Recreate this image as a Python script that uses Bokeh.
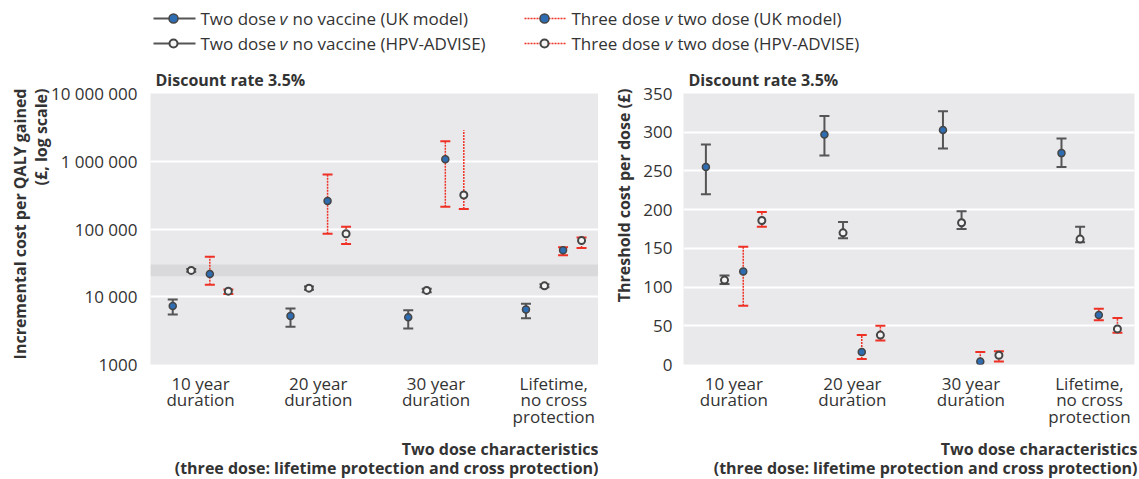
import math
from bokeh.plotting import figure
from bokeh.models import Range1d, FixedTicker, Label, BoxAnnotation
from bokeh.layouts import column, row
from bokeh.embed import file_html
from bokeh.resources import INLINE
from bokeh.core.properties import value

# ---------------- data ----------------
categories = ["10 year\nduration", "20 year\nduration", "30 year\nduration",
              "Lifetime,\nno cross\nprotection"]

# Left panel: incremental cost per QALY gained (GBP, log scale)
uk2_icer = [7300, 5200, 5000, 6500]
uk2_icer_lo = [5450, 3600, 3400, 4800]
uk2_icer_hi = [9100, 6700, 6300, 7900]
hpv2_icer = [24500, 13400, 12400, 14500]
hpv2_icer_lo = [23300, 12700, 11700, 13800]
hpv2_icer_hi = [25700, 14200, 13100, 15300]
uk3_icer = [21600, 260000, 1070000, 48600]
uk3_icer_lo = [15000, 85000, 213000, 41000]
uk3_icer_hi = [39000, 640000, 1970000, 54000]
hpv3_icer = [12100, 85000, 318000, 67500]
hpv3_icer_lo = [11000, 60000, 197000, 52600]
hpv3_icer_hi = [12800, 108000, 2860000, 74800]
hpv3_icer_hi_cap = [True, True, False, True]

# Right panel: threshold cost per dose (GBP)
uk2_thr = [255, 297, 303, 273]
uk2_thr_lo = [220, 270, 279, 255]
uk2_thr_hi = [284, 321, 327, 292]
hpv2_thr = [109, 170, 183, 162]
hpv2_thr_lo = [104, 163, 175, 158]
hpv2_thr_hi = [115, 184, 198, 178]
uk3_thr = [120, 16, 4, 64]
uk3_thr_lo = [76, 7, -5, 57]
uk3_thr_hi = [152, 38, 16, 72]
hpv3_thr = [186, 38, 12, 46]
hpv3_thr_lo = [178, 31, 4, 41]
hpv3_thr_hi = [197, 50, 17, 60]

icer_ticks = [1000, 10000, 100000, 1000000, 10000000]
icer_tick_labels = ["1000", "10 000", "100 000", "1 000 000", "10 000 000"]
thr_ticks = [0, 50, 100, 150, 200, 250, 300, 350]
threshold_band = [20000, 30000]

panel_title = "Discount rate 3.5%"
x_title = ["Two dose characteristics",
           "(three dose: lifetime protection and cross protection)"]
left_y_title = ["Incremental cost per QALY gained", "(£, log scale)"]
right_y_title = "Threshold cost per dose (£)"

legend_labels = [
    ("Two dose", "v", "no vaccine (UK model)"),
    ("Two dose", "v", "no vaccine (HPV-ADVISE)"),
    ("Three dose", "v", "two dose (UK model)"),
    ("Three dose", "v", "two dose (HPV-ADVISE)"),
]

# ---------------- style ----------------
FONT = "Open Sans"
TXT = "#333333"
BG = "#e9e9ec"
BLUE = "#2f6db3"
EDGE = "#454545"
GREY = "#555555"
RED = "#ee3124"
offsets = [-0.236, -0.079, 0.079, 0.236]

TOP = 30
FR_H = 271
BOTTOM = 115
H = TOP + FR_H + BOTTOM


def draw_series(p, slot, y, lo, hi, three, uk, hi_cap=None):
    xs = [i + offsets[slot] for i in range(len(y))]
    col = RED if three else GREY
    p.segment(x0=xs, y0=lo, x1=xs, y1=hi, line_color=col,
              line_width=1.5 if three else 2,
              line_dash="2 1" if three else "solid")
    cap_x = list(xs)
    cap_y = list(lo)
    for i in range(len(xs)):
        if hi_cap is None or hi_cap[i]:
            cap_x.append(xs[i])
            cap_y.append(hi[i])
    p.scatter(x=cap_x, y=cap_y, marker="dash", size=10, line_color=col,
              line_width=2)
    if uk:
        p.scatter(x=xs, y=y, marker="circle", size=7, fill_color=BLUE,
                  line_color=EDGE, line_width=1.5)
    else:
        p.scatter(x=xs, y=y, marker="circle", size=7, fill_color="#f4f4f4",
                  line_color=EDGE, line_width=2)


def lab(text, x, y, align="left", angle=0.0):
    return Label(x=x, y=y, x_units="screen", y_units="screen", text=text,
                 angle=angle, text_font=FONT, text_font_size="16px",
                 text_font_style="bold", text_color=TXT, text_align=align,
                 text_baseline="middle")


def base_fig(width, left, right, y_type, y_range, xt_x):
    p = figure(width=width, height=H, y_axis_type=y_type,
               x_range=Range1d(-0.425, 3.38), y_range=y_range,
               toolbar_location=None, output_backend="svg",
               min_border_left=left, min_border_right=right,
               min_border_top=TOP, min_border_bottom=BOTTOM)
    p.background_fill_color = BG
    p.border_fill_color = "white"
    p.outline_line_color = None
    p.xgrid.visible = False
    p.ygrid.grid_line_color = "white"
    p.ygrid.grid_line_width = 2
    for ax in (p.xaxis[0], p.yaxis[0]):
        ax.axis_line_color = None
        ax.major_tick_line_color = None
        ax.minor_tick_line_color = None
        ax.major_label_text_font = FONT
        ax.major_label_text_font_size = "17px"
        ax.major_label_text_color = TXT
    p.xaxis.ticker = FixedTicker(ticks=list(range(len(categories))))
    p.xaxis.major_label_overrides = {i: c for i, c in enumerate(categories)}
    p.xaxis.major_label_standoff = 1
    p.xaxis.major_label_text_line_height = 0.72
    p.yaxis.major_label_standoff = 7
    p.title.text = panel_title
    p.title.align = "left"
    p.title.offset = 5
    p.title.standoff = 6
    p.title.text_font = FONT
    p.title.text_font_size = "16px"
    p.title.text_font_style = "bold"
    p.title.text_color = TXT
    # x-axis title lines, in their own panels below the axis
    p.add_layout(lab(x_title[0], xt_x, 4, "right"), "below")
    p.add_layout(lab(x_title[1], xt_x, 7, "right"), "below")
    return p


# ---------------- left panel ----------------
left = base_fig(150 + 448, 150, 0, "log", Range1d(1000, 10000000), 448)
left.yaxis.ticker = FixedTicker(ticks=icer_ticks)
left.yaxis.major_label_overrides = dict(zip(icer_ticks, icer_tick_labels))
left.add_layout(BoxAnnotation(bottom=threshold_band[0], top=threshold_band[1],
                              fill_color="#d9d9dc", fill_alpha=1,
                              line_color=None, level="image"))
left.add_layout(lab(left_y_title[1], 15, 276, "right", math.pi / 2), "left")
left.add_layout(lab(left_y_title[0], 16.5, 276, "right", math.pi / 2), "left")
draw_series(left, 0, uk2_icer, uk2_icer_lo, uk2_icer_hi, False, True)
draw_series(left, 1, hpv2_icer, hpv2_icer_lo, hpv2_icer_hi, False, False)
draw_series(left, 2, uk3_icer, uk3_icer_lo, uk3_icer_hi, True, True)
draw_series(left, 3, hpv3_icer, hpv3_icer_lo, hpv3_icer_hi, True, False,
            hi_cap=hpv3_icer_hi_cap)

# ---------------- right panel ----------------
right = base_fig(85 + 451 + 5, 85, 5, "linear", Range1d(0, 350), 454)
right.yaxis.ticker = FixedTicker(ticks=thr_ticks)
right.yaxis.major_label_standoff = 5
right.add_layout(lab(right_y_title, 5, 276, "right", math.pi / 2), "left")
draw_series(right, 0, uk2_thr, uk2_thr_lo, uk2_thr_hi, False, True)
draw_series(right, 1, hpv2_thr, hpv2_thr_lo, hpv2_thr_hi, False, False)
draw_series(right, 2, uk3_thr, uk3_thr_lo, uk3_thr_hi, True, True)
draw_series(right, 3, hpv3_thr, hpv3_thr_lo, hpv3_thr_hi, True, False)

# ---------------- legend ----------------
LW = 1139
LH = 63
leg = figure(width=LW, height=LH, x_range=Range1d(0, LW), y_range=Range1d(0, LH),
             toolbar_location=None, output_backend="svg", min_border=0,
             x_axis_location=None, y_axis_location=None)
leg.grid.visible = False
leg.outline_line_color = None
leg.background_fill_color = "white"

cols_x = [153, 524]
rows_y = [45, 20]
for k, (a, v, b) in enumerate(legend_labels):
    cx = cols_x[k // 2]
    ry = rows_y[k % 2]
    three = k >= 2
    uk = (k % 2 == 0)
    leg.segment(x0=[cx], y0=[ry], x1=[cx + 42], y1=[ry],
                line_color=RED if three else GREY,
                line_width=1.5 if three else 2,
                line_dash="2 1" if three else "solid")
    if uk:
        leg.scatter(x=[cx + 20], y=[ry], marker="circle", size=9,
                    fill_color=BLUE, line_color=EDGE, line_width=1.5)
    else:
        leg.scatter(x=[cx + 20], y=[ry], marker="circle", size=8,
                    fill_color="#f4f4f4", line_color=EDGE, line_width=2)
    tx = cx + 47
    wa = 79 if not three else 93
    leg.text(x=[tx], y=[ry], text=[a], text_font=value(FONT),
             text_font_size="17px", text_color=TXT, text_baseline="middle")
    leg.text(x=[tx + wa], y=[ry], text=[v], text_font=value(FONT),
             text_font_size="17px", text_font_style="italic",
             text_color=TXT, text_baseline="middle")
    leg.text(x=[tx + wa + 13], y=[ry], text=[b], text_font=value(FONT),
             text_font_size="17px", text_color=TXT, text_baseline="middle")

layout = column(leg, row(left, right))
open("out.html", "w").write(file_html(layout, INLINE))
